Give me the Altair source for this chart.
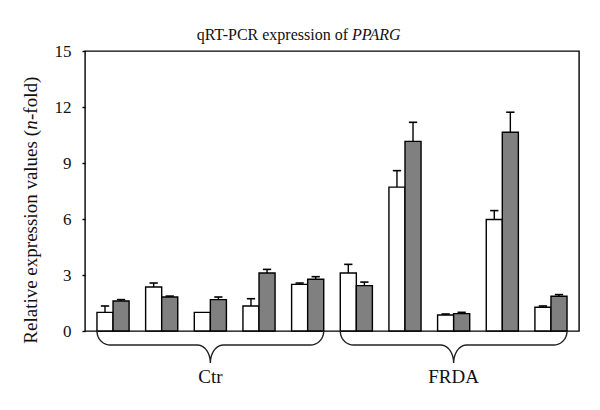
import altair as alt
import pandas as pd
import numpy as np

# ---- data ----
group_names = ["Ctr", "FRDA"]
group_members = [[0, 1, 2, 3, 4], [5, 6, 7, 8, 9]]
white_vals = [1.00, 2.36, 1.00, 1.34, 2.50, 3.11, 7.71, 0.86, 5.97, 1.27]
white_err = [0.34, 0.21, 0.00, 0.39, 0.07, 0.46, 0.88, 0.05, 0.48, 0.07]
gray_vals = [1.61, 1.82, 1.68, 3.11, 2.77, 2.43, 10.16, 0.93, 10.65, 1.86]
gray_err = [0.07, 0.05, 0.14, 0.19, 0.14, 0.19, 1.02, 0.07, 1.07, 0.09]
y_ticks = [0, 3, 6, 9, 12, 15]

FONT = "Liberation Serif"

rows = []
for i in range(len(white_vals)):
    rows.append(dict(pos=i, series="white", value=white_vals[i], err=white_err[i]))
    rows.append(dict(pos=i, series="gray", value=gray_vals[i], err=gray_err[i]))
df = pd.DataFrame(rows)

xscale = alt.Scale(domain=[-0.576, 9.576], nice=False, zero=False)
yscale = alt.Scale(domain=[0, 15], nice=False, zero=False)

BW = 0.33
base = alt.Chart(df).transform_calculate(
    x0="datum.pos + (datum.series == 'white' ? -%f : 0)" % BW,
    x1="datum.pos + (datum.series == 'white' ? 0 : %f)" % BW,
    xc="datum.pos + (datum.series == 'white' ? -%f : %f)" % (BW / 2, BW / 2),
    top="datum.value + datum.err",
)

bars = base.mark_bar(stroke="black", strokeWidth=1.4).encode(
    x=alt.X("x0:Q", scale=xscale, axis=None),
    x2="x1:Q",
    y=alt.Y("value:Q", scale=yscale,
            axis=alt.Axis(values=y_ticks, title=None, domain=False, grid=False,
                          tickSize=3, tickWidth=1.4, tickColor="black",
                          labelFont=FONT, labelFontSize=17, labelColor="#111",
                          labelPadding=11)),
    y2=alt.datum(0),
    fill=alt.Fill("series:N", scale=alt.Scale(domain=["white", "gray"],
                                              range=["#ffffff", "#808080"]), legend=None),
)

err_line = base.transform_filter("datum.err > 0").mark_rule(
    color="black", strokeWidth=1.4).encode(
    x=alt.X("xc:Q", scale=xscale), y=alt.Y("value:Q", scale=yscale), y2="top:Q")

err_cap = base.transform_filter("datum.err > 0").transform_calculate(
    c0="datum.xc - 0.085", c1="datum.xc + 0.085").mark_rule(
    color="black", strokeWidth=1.6).encode(
    x=alt.X("c0:Q", scale=xscale), x2="c1:Q", y=alt.Y("top:Q", scale=yscale))

# ---- braces under each group (decoration built from the group extents) ----
rx = 0.267
ry1 = 0.75
tip = 1.71
ry2 = tip - ry1
t = np.linspace(0, np.pi / 2, 12)
brace_rows = []
for g, members in zip(group_names, group_members):
    xa = min(members) - BW
    xb = max(members) + BW
    xm = (min(members) + max(members)) / 2
    pts = []
    pts += list(zip(xa + rx - rx * np.cos(t), -ry1 * np.sin(t)))
    pts += list(zip(xm - rx + rx * np.sin(t), -tip + ry2 * np.cos(t)))
    pts += list(zip(xm + rx - rx * np.sin(t[::-1]), -tip + ry2 * np.cos(t[::-1])))
    pts += list(zip(xb - rx + rx * np.sin(t), -ry1 * np.cos(t)))
    for k, (px, py) in enumerate(pts):
        brace_rows.append(dict(group=g, order=k, bx=float(px), by=float(py)))
brace_df = pd.DataFrame(brace_rows)

braces = alt.Chart(brace_df).mark_line(color="#222", strokeWidth=1.4).encode(
    x=alt.X("bx:Q", scale=xscale), y=alt.Y("by:Q", scale=yscale),
    detail="group:N", order="order:Q")

label_df = pd.DataFrame({
    "label": group_names,
    "lx": [(min(m) + max(m)) / 2 for m in group_members],
    "ly": [-2.46, -2.46],
})
labels = alt.Chart(label_df).mark_text(
    font=FONT, fontSize=19, color="#111", baseline="middle").encode(
    x=alt.X("lx:Q", scale=xscale), y=alt.Y("ly:Q", scale=yscale), text="label:N")

# ---- title with italic gene name ----
title_parts = pd.DataFrame({"t": ["qRT-PCR expression of"]})
title_ital = pd.DataFrame({"t": ["PPARG"]})
TX = 263
TY = -16
title1 = alt.Chart(title_parts).mark_text(
    font=FONT, fontSize=16, color="#111", align="right", baseline="middle").encode(
    x=alt.value(TX), y=alt.value(TY), text="t:N")
title2 = alt.Chart(title_ital).mark_text(
    font=FONT, fontSize=16, color="#111", align="left", baseline="middle",
    fontStyle="italic").encode(
    x=alt.value(TX + 4), y=alt.value(TY), text="t:N")

# ---- y axis title with italic n ----
ya = pd.DataFrame({"t": ["Relative expression values ("]})
yb = pd.DataFrame({"t": ["n"]})
yc = pd.DataFrame({"t": ["-fold)"]})
YX = -54
NY = 74
ytitle_a = alt.Chart(ya).mark_text(
    font=FONT, fontSize=19, color="#111", angle=270, align="right", baseline="middle").encode(
    x=alt.value(YX), y=alt.value(NY + 5), text="t:N")
ytitle_b = alt.Chart(yb).mark_text(
    font=FONT, fontSize=19, color="#111", angle=270, align="center", baseline="middle",
    fontStyle="italic").encode(
    x=alt.value(YX), y=alt.value(NY), text="t:N")
ytitle_c = alt.Chart(yc).mark_text(
    font=FONT, fontSize=19, color="#111", angle=270, align="left", baseline="middle").encode(
    x=alt.value(YX), y=alt.value(NY - 5), text="t:N")

chart = alt.layer(
    bars, err_line, err_cap, braces, labels,
    title1, title2, ytitle_a, ytitle_b, ytitle_c
).properties(
    width=494, height=280,
    background="white",
    autosize=alt.AutoSizeParams(type="none"),
    padding={"left": 77, "top": 43, "right": 13, "bottom": 70},
).configure_view(
    stroke="black", strokeWidth=1.4
)

chart.save("out.html", embed_options={"renderer": "svg", "actions": False})
